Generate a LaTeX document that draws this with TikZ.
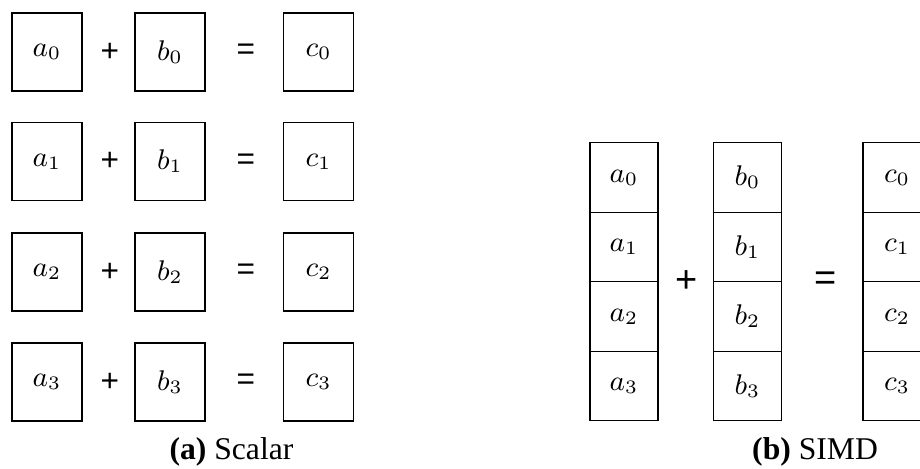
\documentclass[tikz,border=0pt]{standalone}
\usepackage[no-math]{fontspec}
\newfontfamily\capfont{Liberation Serif}
\newfontfamily\signfont{Liberation Sans}
\usepackage{tikz}
\usetikzlibrary{positioning}

\begin{document}
\begin{tikzpicture}[font=\small,
  cell/.style={draw, minimum width=0.778cm, minimum height=0.867cm, inner sep=0pt},
  lane/.style={draw, minimum width=0.756cm, minimum height=0.772cm, inner sep=0pt},
  sign/.style={font=\normalsize\signfont},
  bigsign/.style={font=\large\signfont},
  caption/.style={font=\normalsize\capfont}]
  \clip (0,0) rectangle (10.222,5.2);
  % scalar: one add per element
  \foreach \i/\y in {0/4.622,1/3.406,2/2.178,3/0.956} {
    \node[cell] (a\i) at (0.522,\y) {$a_\i$};
    \node[cell] (b\i) at (1.889,\y) {$b_\i$};
    \node[cell] (c\i) at (3.539,\y) {$c_\i$};
    \node[sign] (plus\i) at (1.222,\y) {+};
    \node[sign] (eq\i) at (2.733,\y) {=};
  }
  \node[caption] (capa) at (2.572,0.178) {\textbf{(a)} Scalar};
  % SIMD: one add for the whole vector
  \foreach \i/\y in {0/3.228,1/2.456,2/1.683,3/0.911} {
    \node[lane] (va\i) at (6.933,\y) {$a_\i$};
    \node[lane] (vb\i) at (8.306,\y) {$b_\i$};
    \node[lane] (vc\i) at (9.967,\y) {$c_\i$};
  }
  \node[bigsign] (vplus) at (7.633,2.067) {+};
  \node[bigsign] (veq) at (9.178,2.078) {=};
  \node[caption] (capb) at (9.056,0.178) {\textbf{(b)} SIMD};
\end{tikzpicture}
\end{document}
